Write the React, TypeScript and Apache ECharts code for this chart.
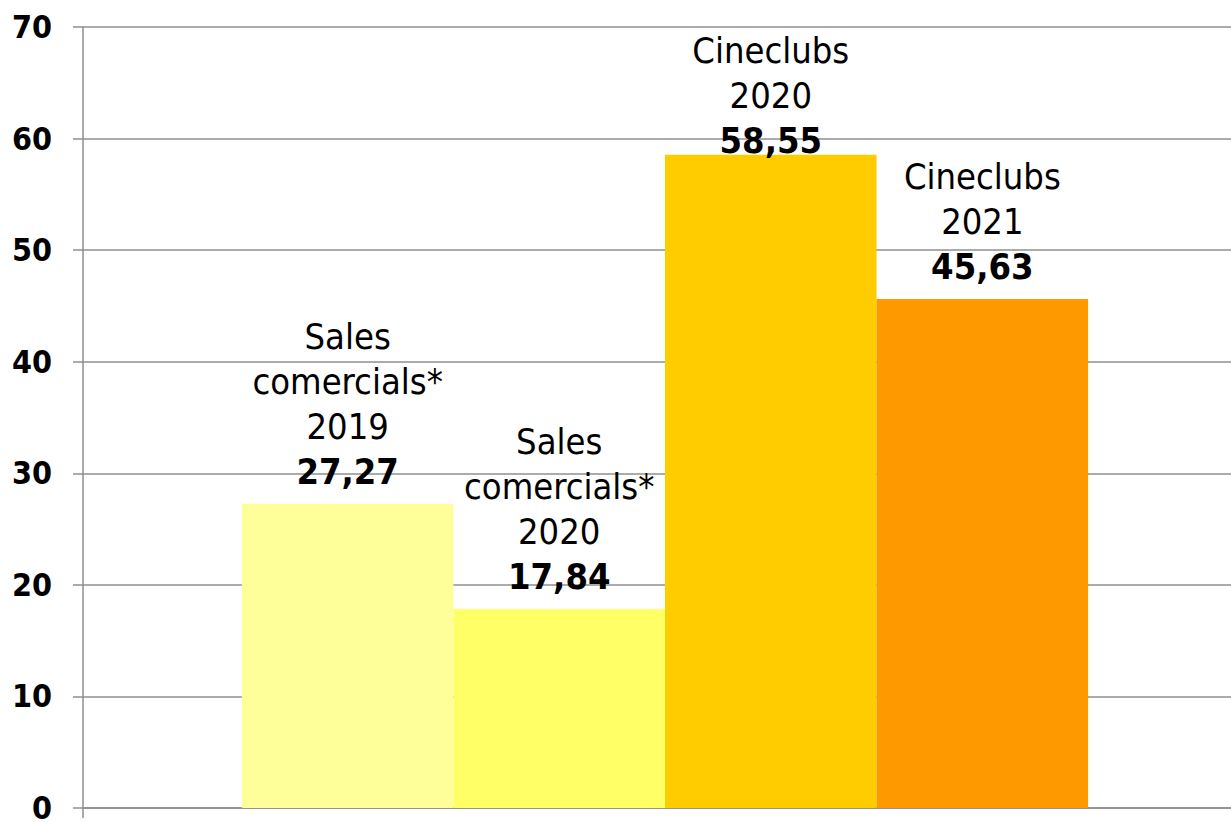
import React, { useEffect, useRef } from "react";
import * as echarts from "echarts";

const categories = [
  "Sales\ncomercials*\n2019",
  "Sales\ncomercials*\n2020",
  "Cineclubs\n2020",
  "Cineclubs\n2021",
];
const values = [27.27, 17.84, 58.55, 45.63];
const yMin = 0;
const yMax = 70;
const yInterval = 10;

const barColors = ["#FFFF99", "#FFFF66", "#FFCC00", "#FF9900"];
const labelDistances = [10, 10, -8, 10];
const FONT = "'DejaVu Sans Condensed', 'DejaVu Sans', sans-serif";

const fmt = (v: number) => v.toFixed(2).replace(".", ",");

export default function App() {
  const ref = useRef<HTMLDivElement>(null);
  useEffect(() => {
    if (!ref.current) return;
    const chart = echarts.init(ref.current, undefined, { renderer: "svg" });
    const gray = "#8f8f8f";
    chart.setOption({
      animation: false,
      grid: {
        left: 83,
        width: 1164,
        top: 27,
        bottom: 14,
        containLabel: false,
        outerBoundsMode: "none",
      },
      xAxis: {
        type: "category",
        data: [""],
        axisLine: { show: true, lineStyle: { color: gray, width: 1.5 } },
        axisTick: { show: true, length: 10, lineStyle: { color: gray, width: 1.5 } },
        axisLabel: { show: false },
        splitLine: { show: false },
      },
      yAxis: {
        type: "value",
        min: yMin,
        max: yMax,
        interval: yInterval,
        axisLine: { show: true, lineStyle: { color: gray, width: 1.5 } },
        axisTick: { show: true, length: 10, lineStyle: { color: gray, width: 1.5 } },
        splitLine: { show: true, lineStyle: { color: gray, width: 1.5 } },
        axisLabel: {
          margin: 31,
          color: "#000",
          fontSize: 32,
          lineHeight: 24,
          fontWeight: "bold",
          fontFamily: FONT,
        },
      },
      series: categories.map((name, i) => ({
        type: "bar",
        name,
        data: [values[i]],
        barGap: "0%",
        barCategoryGap: "27.3%",
        itemStyle: { color: barColors[i] },
        z: 1,
        label: {
          show: true,
          position: "top",
          distance: labelDistances[i],
          align: "center",
          formatter: (p: any) =>
            name
              .split("\n")
              .map((l) => `{n|${l}}`)
              .join("\n") + `\n{b|${fmt(p.value)}}`,
          rich: {
            n: {
              fontSize: 36,
              fontFamily: FONT,
              color: "#000",
              lineHeight: 45,
              align: "center",
            },
            b: {
              fontSize: 36,
              fontWeight: "bold",
              fontFamily: FONT,
              color: "#000",
              lineHeight: 45,
              align: "center",
            },
          },
        },
      })),
    });
    return () => chart.dispose();
  }, []);
  return (
    <div
      ref={ref}
      style={{ position: "fixed", left: 0, top: 0, width: 1231, height: 822, background: "#fff" }}
    />
  );
}
